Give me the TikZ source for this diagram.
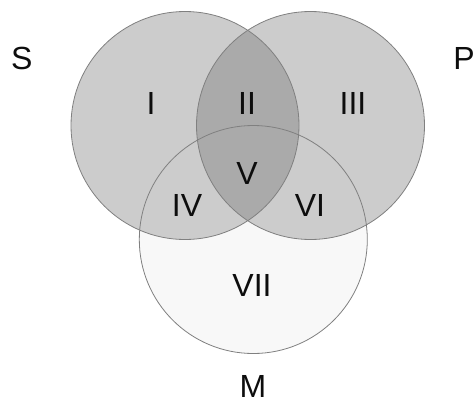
\documentclass[tikz,border=0pt]{standalone}
\usepackage{fontspec}
\setmainfont{Liberation Sans}
\definecolor{setfill}{gray}{0.80}
\definecolor{lensfill}{gray}{0.665}
\definecolor{mfill}{gray}{0.972}
\definecolor{edge}{gray}{0.50}
\definecolor{ink}{gray}{0.05}
\begin{document}
\begin{tikzpicture}[x=1pt,y=-1pt,
  lbl/.style={font=\fontsize{32}{32}\selectfont, text=ink, inner sep=0pt},
  rim/.style={draw=edge, line width=0.8pt}]
\useasboundingbox (0,0) rectangle (475,400);
\fill[white] (0,0) rectangle (475,400);
\coordinate (cS) at (185,125.5);
\coordinate (cP) at (310.5,125.5);
\coordinate (cM) at (253.3,239.5);
% fills
\fill[mfill] (cM) circle[radius=114];
\fill[setfill] (cS) circle[radius=114];
\fill[setfill] (cP) circle[radius=114];
\begin{scope}
  \clip (cS) circle[radius=114];
  \fill[lensfill] (cP) circle[radius=114];
\end{scope}
% outlines
\draw[rim] (cS) circle[radius=114];
\draw[rim] (cP) circle[radius=114];
\draw[rim] (cM) circle[radius=114];
% labels
\node[lbl] (S) at (21.7,58) {S};
\node[lbl] (P) at (464,58) {P};
\node[lbl, anchor=base] (M) at (253,397) {M};
\node[lbl] (r1) at (151,103) {I};
\node[lbl] (r2) at (247,103) {II};
\node[lbl] (r3) at (353,103) {III};
\node[lbl] (r5) at (247,173) {V};
\node[lbl] (r4) at (187,205) {IV};
\node[lbl] (r6) at (310,205) {VI};
\node[lbl] (r7) at (252,285) {VII};
\end{tikzpicture}
\end{document}
